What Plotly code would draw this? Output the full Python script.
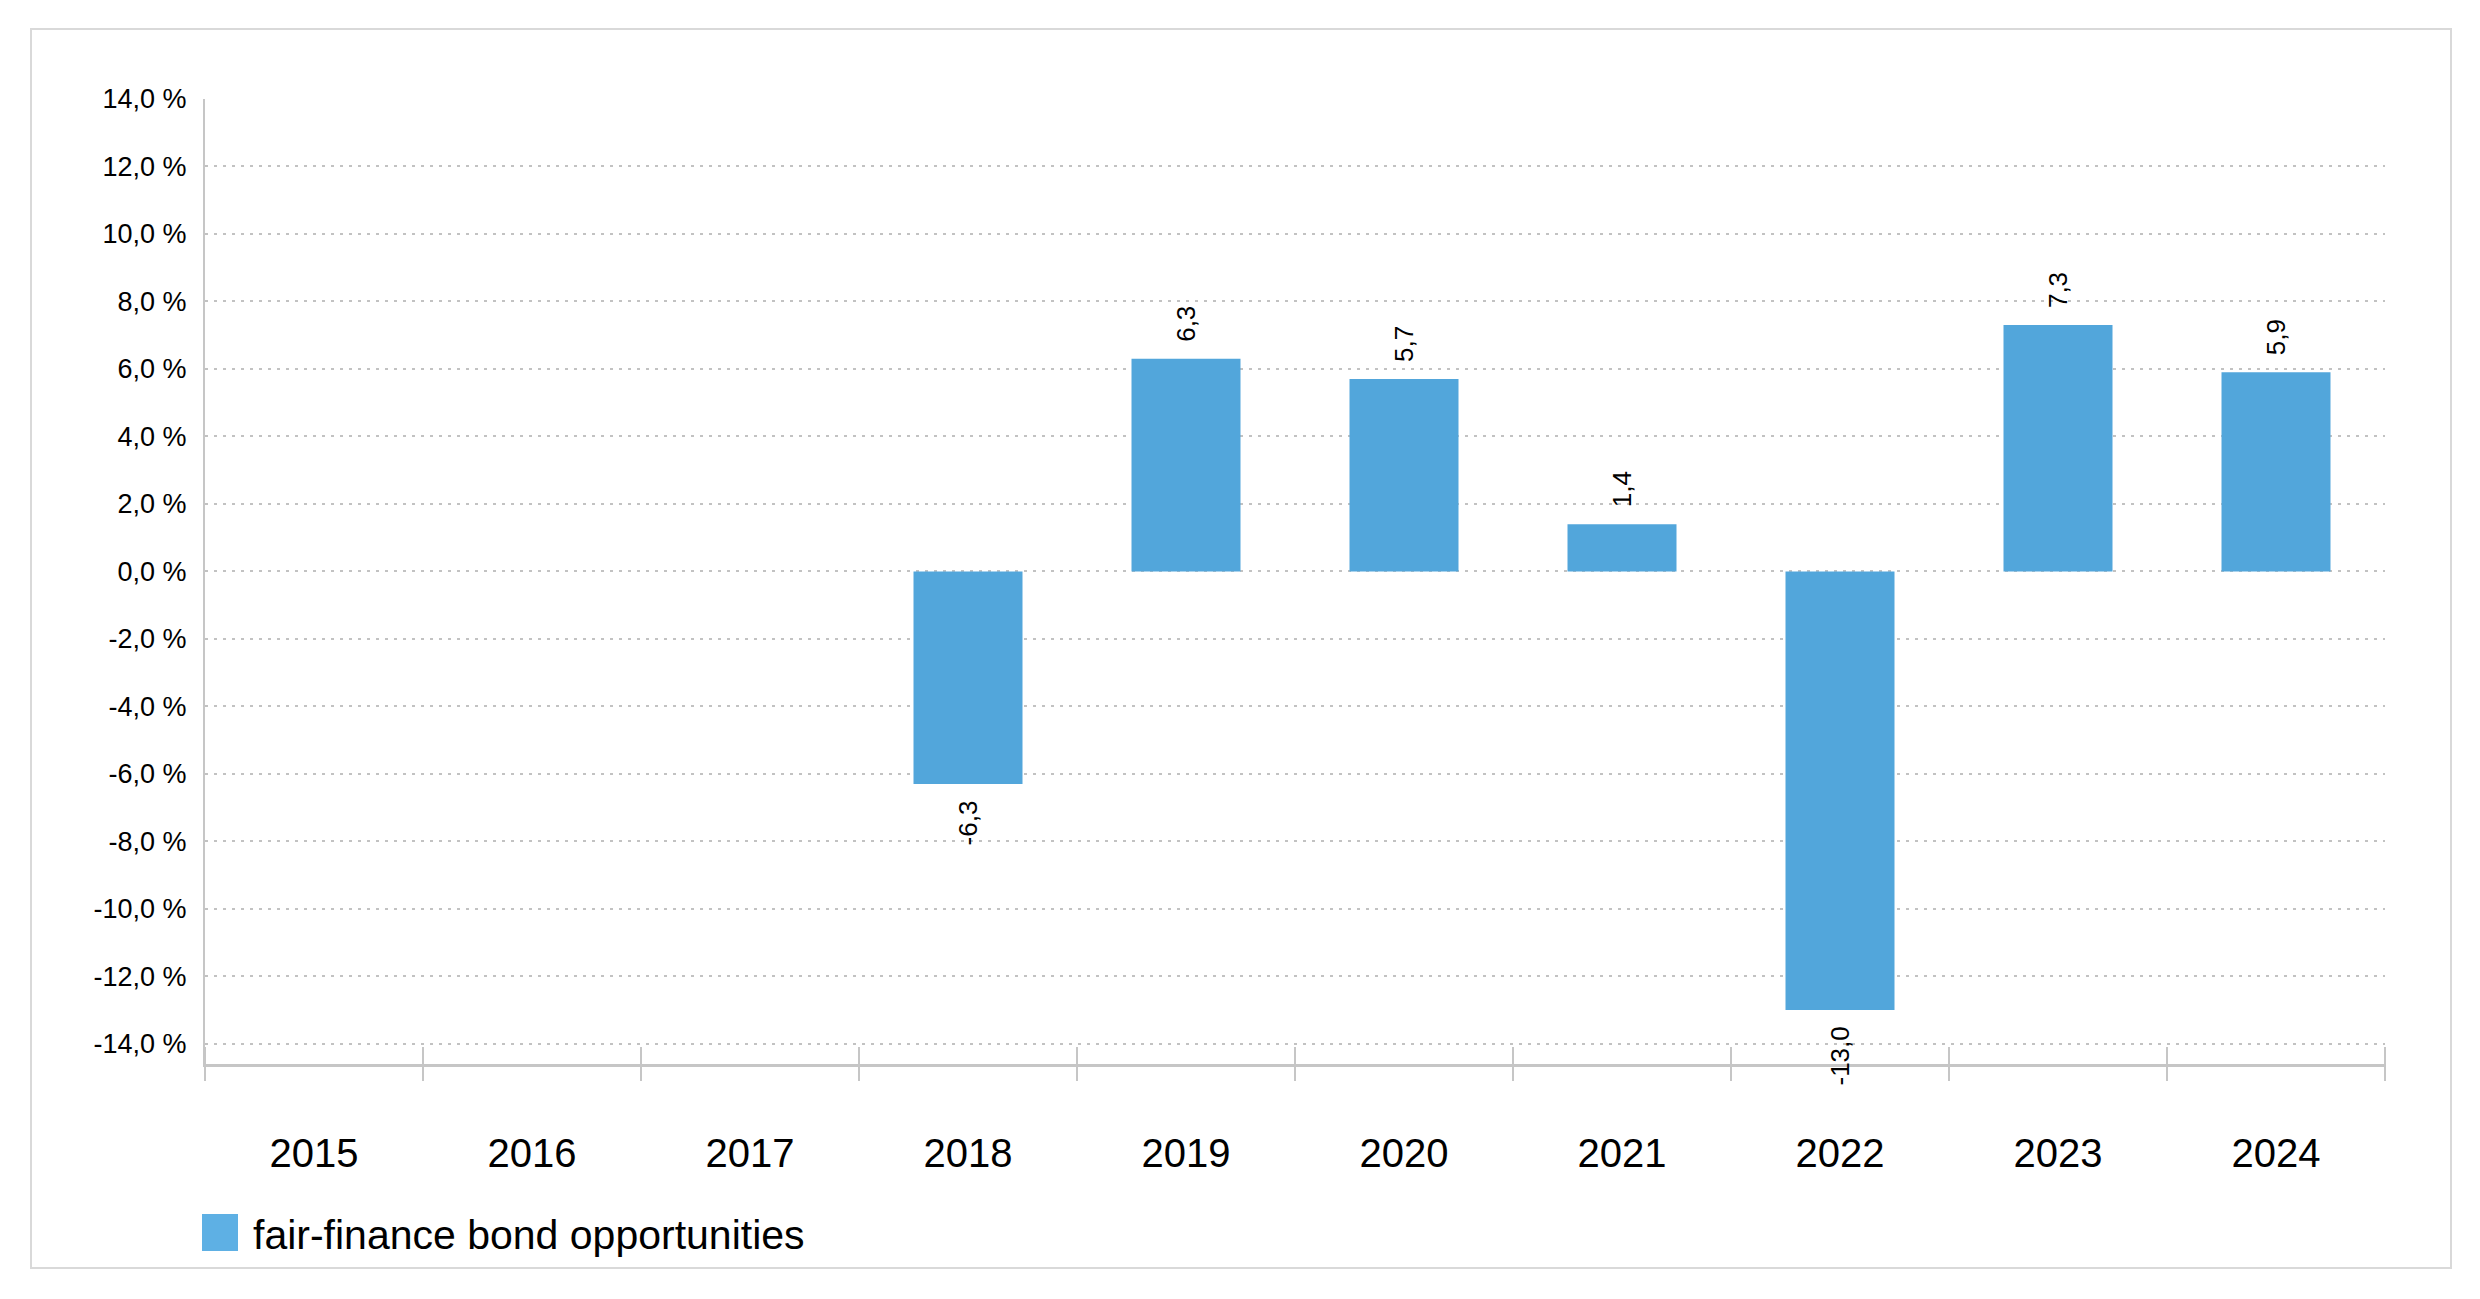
import plotly.graph_objects as go

years = ["2015", "2016", "2017", "2018", "2019", "2020", "2021", "2022", "2023", "2024"]
returns = [None, None, None, -6.3, 6.3, 5.7, 1.4, -13.0, 7.3, 5.9]
series_name = "fair-finance bond opportunities"
y_ticks = [14, 12, 10, 8, 6, 4, 2, 0, -2, -4, -6, -8, -10, -12, -14]

BAR = "#52a6db"
GRID = "#c2c2c2"
FONT = "Liberation Sans, Arial, sans-serif"

def de(v):
    return f"{v:.1f}".replace(".", ",")

y_ticktext = [de(v) + " %" for v in y_ticks]

fig = go.Figure()
fig.add_trace(go.Bar(x=years, y=returns, name=series_name, width=0.5,
                     marker=dict(color=BAR, line=dict(width=0)),
                     showlegend=False, hoverinfo="x+y"))

# rotated value labels (category index used as position)
for i, v in enumerate(returns):
    if v is None:
        continue
    fig.add_annotation(x=i, y=v, xref="x", yref="y", text=de(v), showarrow=False,
                       textangle=-90, font=dict(family=FONT, size=26, color="#000"),
                       xanchor="center", yanchor="bottom" if v >= 0 else "top",
                       yshift=15 if v >= 0 else -15)

OFF = 7  # compensate page body margin
W, H = 2480, 1299
L, R, T, B = 204 - OFF, 2384 - OFF, 98 - OFF, 1063 - OFF
pw, ph = R - L, B - T
def px(x):
    return (x - OFF - L) / pw
def py(y):
    return (B - (y - OFF)) / ph

shapes = []
# outer frame
shapes.append(dict(type="rect", xref="paper", yref="paper", x0=px(30), x1=px(2450), y0=py(1267), y1=py(28),
                   line=dict(color="#d9d9d9", width=2), fillcolor="rgba(0,0,0,0)", layer="below"))
# crossing tick marks at category boundaries
n = len(years)
for i in range(n + 1):
    shapes.append(dict(type="line", xref="paper", yref="paper", x0=i / n, x1=i / n,
                       y0=py(1063 + 17), y1=py(1063 - 17), line=dict(color="#c6c6c6", width=2)))
# legend square
shapes.append(dict(type="rect", xref="paper", yref="paper", x0=px(201), x1=px(237), y0=py(1250), y1=py(1213),
                   line=dict(width=0), fillcolor="#5eb0e4"))

fig.add_annotation(xref="paper", yref="paper", x=px(250), y=py(1234), text=series_name, showarrow=False,
                   xanchor="left", yanchor="middle", font=dict(family=FONT, size=41, color="#000"))

fig.update_layout(
    width=W, height=H,
    margin=dict(l=L, r=W - R, t=T, b=H - B, autoexpand=False),
    paper_bgcolor="white", plot_bgcolor="white",
    font=dict(family=FONT, color="#000"),
    shapes=shapes,
    bargap=0.5,
    xaxis=dict(type="category", categoryorder="array", categoryarray=years, range=[-0.5, n - 0.5],
               showgrid=False, showline=True, linecolor="#c6c6c6", linewidth=3, ticks="",
               tickfont=dict(family=FONT, size=40, color="#000"), ticklabelstandoff=52,
               zeroline=False, fixedrange=True),
    yaxis=dict(range=[-14.6, 14], tickvals=y_ticks, ticktext=y_ticktext,
               showgrid=True, gridcolor=GRID, gridwidth=2, griddash="3px,6px",
               showline=True, linecolor="#c6c6c6", linewidth=2, zeroline=False, ticks="",
               tickfont=dict(family=FONT, size=27, color="#000"), ticklabelstandoff=11,
               fixedrange=True),
)

fig.write_html("out.html")
